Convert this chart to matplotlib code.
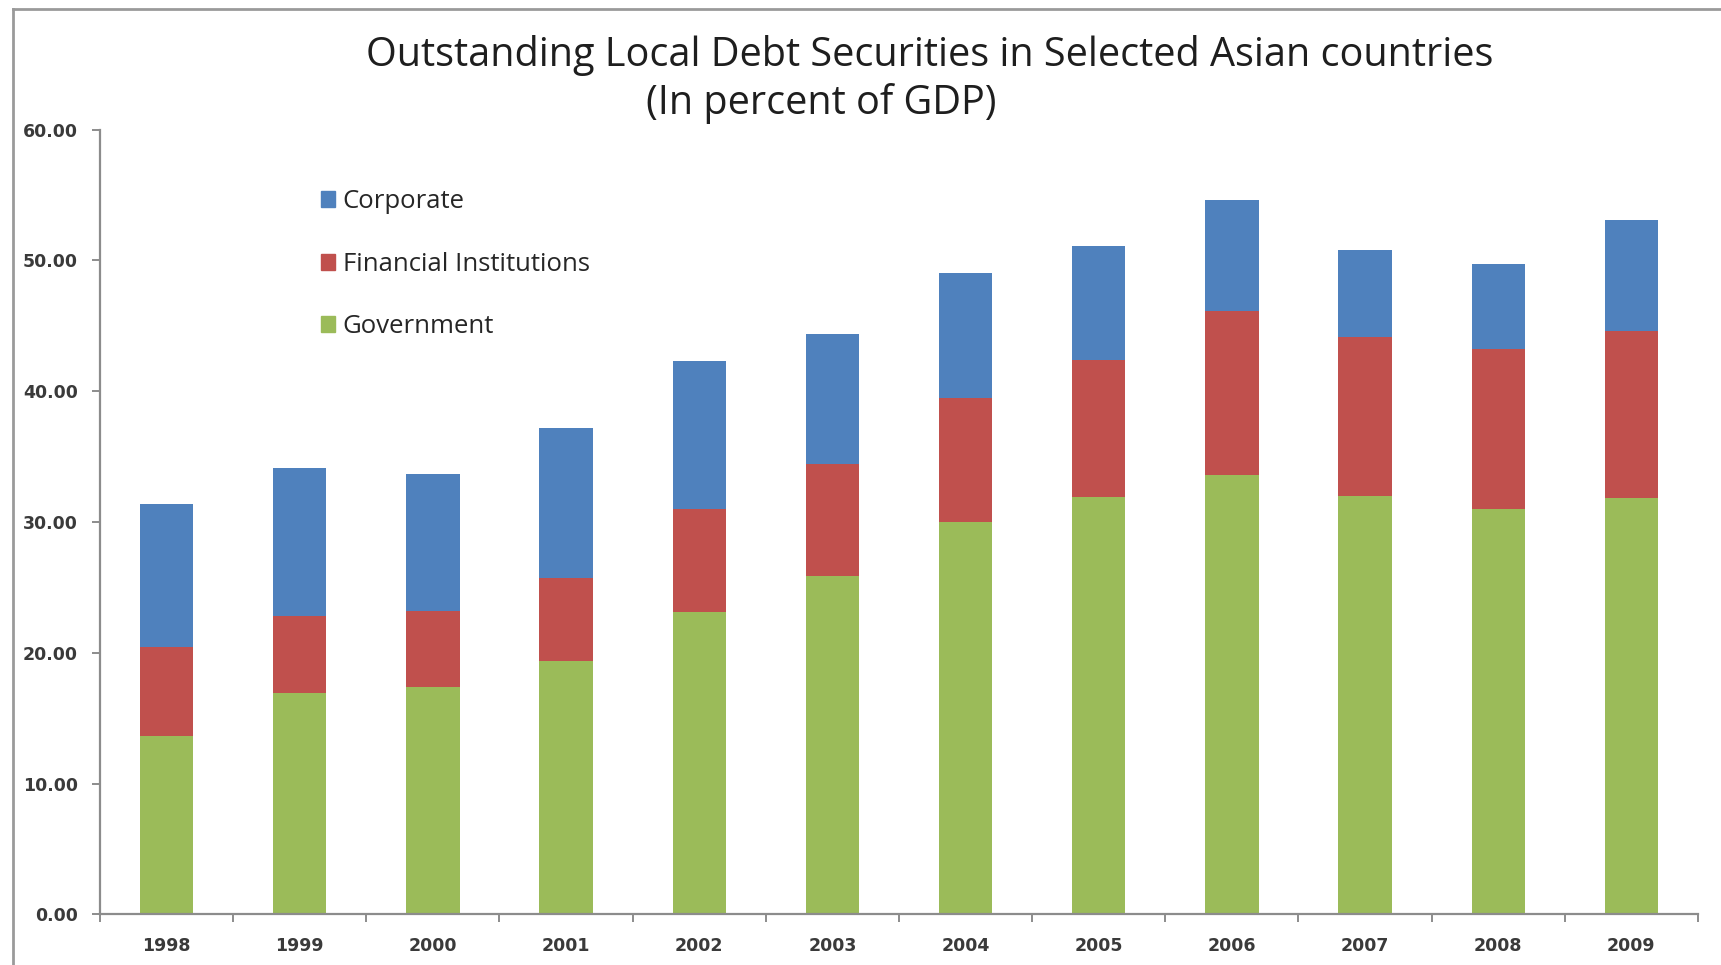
import numpy as np
import matplotlib.pyplot as plt
from matplotlib.lines import Line2D
from matplotlib.patches import Patch

years = ['1998', '1999', '2000', '2001', '2002', '2003',
         '2004', '2005', '2006', '2007', '2008', '2009']
government = [13.6, 16.9, 17.4, 19.4, 23.1, 25.9, 30.0, 31.9, 33.6, 32.0, 31.0, 31.8]
financial = [6.8, 5.9, 5.8, 6.3, 7.9, 8.5, 9.5, 10.5, 12.5, 12.1, 12.2, 12.8]
corporate = [11.0, 11.3, 10.5, 11.5, 11.3, 10.0, 9.5, 8.7, 8.5, 6.7, 6.5, 8.5]

c_gov = '#9BBB59'
c_fin = '#C0504D'
c_corp = '#4F81BD'
axis_col = '#8C8C8C'

fig = plt.figure(figsize=(17.21, 9.65), dpi=100)
ax = fig.add_axes([0.0581, 0.0525, 0.9285, 0.8133])

x = np.arange(len(years))
gov = np.array(government)
fin = np.array(financial)
w = 0.40
ax.bar(x, gov, w, color=c_gov)
ax.bar(x, fin, w, bottom=gov, color=c_fin)
ax.bar(x, corporate, w, bottom=gov + fin, color=c_corp)

ax.set_xlim(-0.5, len(years) - 0.5)
ax.set_ylim(0, 60)

#spines
for s in ['top', 'right']:
    ax.spines[s].set_visible(False)
for s in ['left', 'bottom']:
    ax.spines[s].set_color(axis_col)
    ax.spines[s].set_linewidth(1.6)

tickfont = dict(family='DejaVu Sans', weight='bold', size=12.5, color='#3A3A3A')
ax.set_yticks(np.arange(0, 61, 10))
ax.set_yticklabels(['%.2f' % v for v in np.arange(0, 61, 10)], **tickfont)
ax.tick_params(axis='y', direction='out', length=6, width=1.4, color=axis_col, pad=10)

ax.set_xticks(x)
ax.set_xticklabels(years, **tickfont)
ax.set_xticks(np.arange(-0.5, len(years), 1), minor=True)
ax.tick_params(axis='x', which='major', length=0, pad=16)
ax.tick_params(axis='x', which='minor', direction='out', length=6, width=1.4, color=axis_col)

#legend
handles = [Patch(color=c_corp), Patch(color=c_fin), Patch(color=c_gov)]
labels = ['Corporate', 'Financial Institutions', 'Government']
leg = ax.legend(handles, labels, loc='upper left', bbox_to_anchor=(0.130, 0.940),
                frameon=False, borderpad=0, handlelength=0.58, handleheight=0.58,
                handletextpad=0.28, labelspacing=1.45,
                prop=dict(family='Open Sans', size=18.5))
for t in leg.get_texts():
    t.set_color('#262626')

#title, two lines centered differently
fig.text(0.540, 0.942, 'Outstanding Local Debt Securities in Selected Asian countries',
         ha='center', va='center', family='Open Sans', size=28.5, color='#1E1E1E')
fig.text(0.477, 0.893, '(In percent of GDP)',
         ha='center', va='center', family='Open Sans', size=28.5, color='#1E1E1E')

#outer frame (cut off on right and bottom)
fig.add_artist(Line2D([0.0076, 0.0076], [0.0, 0.9909], color='#9A9A9A', lw=2,
                      transform=fig.transFigure))
fig.add_artist(Line2D([0.0076, 1.0], [0.9909, 0.9909], color='#9A9A9A', lw=2,
                      transform=fig.transFigure))

fig.savefig('out.png', dpi=100)
